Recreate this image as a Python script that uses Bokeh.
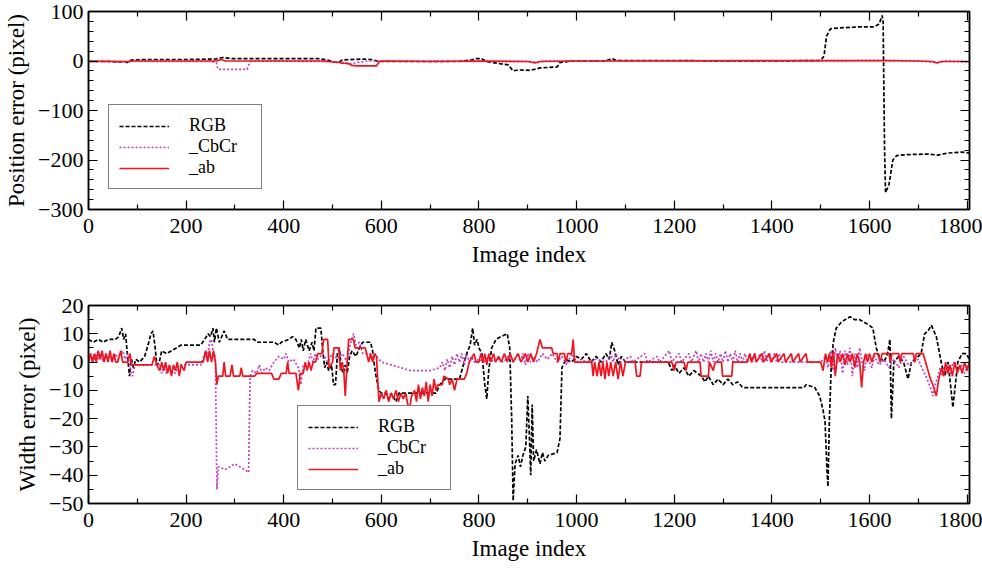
from bokeh.plotting import figure
from bokeh.models import Legend, LegendItem, LinearAxis, FixedTicker, Range1d, CustomJSTickFormatter
from bokeh.layouts import column
from bokeh.embed import file_html
from bokeh.resources import INLINE

# ---------------- data ----------------
series_names = ["RGB", "_CbCr", "_ab"]
x_ticks = [0, 200, 400, 600, 800, 1000, 1200, 1400, 1600, 1800]
x_minor = [100, 300, 500, 700, 900, 1100, 1300, 1500, 1700]
top_yticks = [-300, -200, -100, 0, 100]
bot_yticks = [-50, -40, -30, -20, -10, 0, 10, 20]

top_rgb = [(0, -1), (40, -1), (70, -2), (80, -3), (88, 2), (120, 3), (200, 3), (260, 4), (275, 7), (290, 5),
           (400, 5), (470, 5), (490, 2), (505, -2), (512, -3), (520, 2), (560, 4), (580, 3), (595, -1), (650, -1),
           (760, -1), (785, 2), (795, 5), (805, 5), (815, -1), (840, -5), (860, -8), (870, -20), (880, -18),
           (905, -19), (925, -14), (960, -12), (966, -3), (990, 0), (1060, 0), (1072, 5), (1080, 2), (1090, 1),
           (1200, 1), (1300, 0), (1400, 0), (1500, 1), (1507, 10), (1512, 50), (1520, 65), (1540, 67), (1580, 69),
           (1610, 69), (1620, 75), (1626, 92), (1628, 80), (1631, -180), (1633, -266), (1640, -250), (1648, -200),
           (1656, -191), (1680, -189), (1720, -188), (1740, -190), (1760, -186), (1790, -184), (1805, -186)]

top_cbcr = [(0, -1), (80, -2), (90, 0), (160, -1), (250, -1), (262, -3), (265, -16), (270, -17), (325, -17),
            (330, -3), (335, 0), (500, -1), (520, -3), (530, -6), (545, -4), (570, 0), (600, 0), (900, -1),
            (920, -2), (940, 0), (1000, 0), (1500, 0), (1630, 1), (1700, 0), (1740, -3), (1760, 0), (1805, -2)]

top_ab = [(0, 0), (80, -1), (90, 0), (250, 0), (262, 0), (272, 3), (280, 0), (480, 0), (500, -2), (515, -3),
          (520, -5), (530, -4), (540, -9), (548, -10), (590, -10), (596, -1), (600, 0), (700, -1), (800, 0),
          (900, -1), (915, -4), (925, -1), (1000, 0), (1630, 1), (1700, 0), (1730, -1), (1738, -4), (1748, -1),
          (1805, -1)]

bot_rgb = [(0, 8), (10, 7), (20, 8), (30, 7), (40, 8), (55, 8), (62, 9), (68, 12), (72, 8), (76, 10), (80, 2),
           (84, -5), (88, 1), (92, -2), (97, 1), (105, 0), (115, 2), (122, 6), (128, 10), (132, 11), (136, 6),
           (140, -1), (145, 0), (150, 4), (160, 3), (170, 4), (180, 5), (190, 6), (200, 6), (230, 6), (238, 8),
           (245, 10), (250, 9), (255, 12), (258, 7), (262, 12), (268, 7), (278, 11), (285, 8), (300, 8), (340, 8),
           (345, 7), (380, 7), (390, 6), (395, 7), (410, 8), (418, 9), (425, 8), (432, 5), (436, 8), (440, 4),
           (445, 8), (452, 4), (458, 7), (462, 4), (466, 12), (476, 12), (480, 4), (484, -2), (488, 0), (492, -3),
           (498, -1), (502, -8), (506, -8), (510, 3), (514, 5), (518, -2), (522, -4), (526, -1), (530, -4),
           (535, 2), (540, 4), (548, 2), (555, 5), (562, 7), (578, 7), (582, 4), (588, -4), (595, -10), (600, -11),
           (610, -11), (615, -13), (620, -11), (630, -14), (636, -11), (645, -11), (700, -11), (712, -11),
           (720, -8), (730, -6), (760, -6), (768, -1), (775, 3), (782, 6), (787, 12), (791, 6), (796, 8), (800, 5),
           (806, 3), (812, -8), (816, -13), (820, -3), (826, 5), (835, 8), (845, 9), (858, 10), (863, 5),
           (867, -20), (870, -49), (874, -36), (880, -33), (885, -37), (890, -33), (896, -30), (900, -12),
           (903, -25), (906, -40), (909, -15), (912, -35), (918, -31), (925, -36), (930, -32), (935, -35),
           (942, -33), (960, -32), (966, -27), (970, -2), (978, 1), (990, 0), (1000, 2), (1010, 1), (1020, 3),
           (1030, 0), (1040, 2), (1050, 0), (1060, 3), (1067, 1), (1072, 7), (1078, 4), (1085, -1), (1092, 2),
           (1100, 0), (1150, 0), (1188, 0), (1195, -3), (1200, -1), (1210, -4), (1220, -2), (1230, -5),
           (1240, -3), (1256, -5), (1263, -7), (1270, -5), (1280, -8), (1290, -6), (1300, -8), (1310, -6),
           (1320, -8), (1330, -7), (1340, -9), (1350, -9), (1400, -9), (1466, -9), (1470, -8), (1488, -9),
           (1498, -12), (1505, -17), (1509, -21), (1513, -38), (1515, -44), (1518, -20), (1522, 0), (1526, 7),
           (1532, 12), (1542, 14), (1550, 15), (1560, 16), (1570, 15), (1580, 15), (1590, 14), (1600, 13),
           (1607, 12), (1614, 5), (1620, 2), (1630, 0), (1637, 3), (1642, 8), (1645, -20), (1650, 0), (1660, 2),
           (1670, 0), (1679, -6), (1686, 0), (1700, 2), (1706, 3), (1713, 10), (1720, 11), (1727, 13), (1737, 9),
           (1747, 0), (1754, -5), (1761, 0), (1771, -16), (1781, 0), (1790, 3), (1798, 3), (1805, 1)]

bot_cbcr = [(0, 0), (5, 3), (10, 0), (15, 3), (20, 1), (25, 3), (30, 0), (35, 3), (40, 1), (45, 3), (50, 0),
            (55, 3), (60, 1), (65, 3), (70, 4), (75, 1), (80, 3), (85, -2), (90, -5), (95, -1), (105, -1),
            (120, -1), (135, -1), (145, -1), (150, -4), (155, -2), (160, -4), (165, -1), (170, -3), (178, -4),
            (185, -1), (200, -1), (230, -1), (240, 4), (244, 2), (248, 7), (252, 8), (256, 3), (260, 2),
            (263, -45), (266, -37), (280, -38), (290, -37), (300, -36), (310, -37), (320, -38), (328, -39),
            (331, -5), (336, -3), (345, -4), (350, -1), (355, -4), (362, -2), (370, -3), (380, 0), (390, 2),
            (400, 1), (405, 3), (410, 0), (420, 1), (430, -2), (435, -8), (440, -1), (450, 0), (455, 3), (460, 0),
            (465, 3), (470, 1), (480, 3), (490, 0), (500, 3), (510, 1), (520, 3), (530, 0), (536, 6), (543, 10),
            (548, 6), (555, 7), (562, 3), (575, 3), (590, 2), (600, 0), (620, -1), (640, -2), (660, -3),
            (700, -3), (720, -2), (725, 0), (730, -3), (735, 1), (740, -2), (745, 2), (750, -1), (755, 3),
            (760, 0), (765, 3), (770, -1), (775, 3), (780, 0), (785, 2), (790, 0), (800, 1), (810, 0), (820, 2),
            (830, 0), (840, 1), (850, 0), (860, 2), (870, 0), (880, 3), (885, 0), (890, 3), (895, -1), (900, 3),
            (905, 0), (910, 2), (920, 0), (930, 3), (940, 1), (950, 3), (960, 0), (970, 2), (980, -1), (990, 3),
            (1000, 0), (1010, 1), (1020, 0), (1040, 1), (1060, 0), (1070, 3), (1075, 0), (1080, 3), (1090, 0),
            (1110, 2), (1115, 0), (1140, 3), (1145, 0), (1165, 2), (1170, 0), (1185, 3), (1190, 4), (1195, 0),
            (1210, 3), (1215, 0), (1230, 3), (1235, 0), (1245, 4), (1250, 0), (1255, 3), (1260, 0), (1265, 3),
            (1270, 0), (1275, 4), (1280, 0), (1285, 3), (1290, 0), (1295, 3), (1300, 0), (1305, 4), (1310, 0),
            (1315, 3), (1320, 0), (1325, 4), (1330, 0), (1335, 3), (1340, 0), (1345, 3), (1350, 0), (1355, 3),
            (1360, 0), (1365, 3), (1370, 0), (1375, 3), (1380, 0), (1385, 4), (1390, 0), (1395, 3), (1400, 0),
            (1405, 3), (1410, 0), (1415, 3), (1420, 0), (1440, 0), (1500, 0), (1510, 2), (1515, -2), (1520, 4),
            (1525, -3), (1530, 5), (1535, 0), (1540, 4), (1545, -4), (1550, 4), (1555, -1), (1560, 5), (1565, -5),
            (1570, 3), (1575, -2), (1580, 5), (1585, 0), (1590, -3), (1595, 3), (1600, 0), (1605, -2), (1610, 2),
            (1620, -1), (1630, 1), (1640, -2), (1650, 1), (1660, -2), (1670, 2), (1680, -1), (1690, 0), (1700, 1),
            (1710, -3), (1718, -6), (1725, -9), (1730, -12), (1735, -8), (1740, -5), (1745, -2), (1750, -5),
            (1758, -1), (1765, -4), (1772, 0), (1780, -3), (1788, -1), (1795, -4), (1805, 0)]

bot_ab = [(0, 0), (4, 3), (8, 0), (12, 3), (16, 0), (20, 4), (24, 1), (28, 4), (32, 0), (36, 3), (40, 0), (44, 4),
          (48, 0), (52, 3), (56, 0), (60, 0), (66, 4), (70, 0), (80, 0), (85, 3), (88, -1), (100, -1), (130, -1),
          (135, 2), (140, -1), (146, -3), (150, 0), (154, -3), (158, 0), (162, -4), (166, -1), (170, -5),
          (174, -1), (178, -3), (182, 0), (186, -5), (190, -1), (196, -3), (200, 0), (225, 0), (235, 0), (240, 4),
          (244, 0), (248, 4), (252, 0), (256, 4), (260, 0), (263, -8), (266, -5), (275, -5), (278, 0), (281, -5),
          (290, -5), (294, -1), (297, -5), (310, -5), (313, -2), (316, -5), (340, -5), (345, -4), (375, -4),
          (380, -6), (390, -6), (395, -4), (405, -4), (408, 0), (411, -4), (425, -4), (430, -10), (434, -4),
          (440, -4), (444, 0), (448, -3), (452, 0), (456, -3), (460, 0), (465, 0), (470, 3), (478, 3), (482, 8),
          (490, 8), (493, -2), (500, 0), (503, 5), (513, 5), (516, -3), (520, 0), (523, -3), (526, -12), (530, 0),
          (533, 8), (543, 8), (546, 5), (567, 5), (570, 3), (574, 0), (578, 3), (582, 0), (586, 3), (590, 2),
          (595, -14), (600, -11), (605, -13), (610, -10), (615, -14), (620, -11), (625, -13), (630, -10),
          (635, -14), (640, -11), (645, -13), (650, -11), (654, -15), (658, -16), (662, -12), (668, -10),
          (672, -14), (676, -8), (680, -13), (684, -9), (688, -12), (692, -7), (696, -14), (700, -8), (704, -12),
          (708, -6), (712, -10), (716, -8), (725, -8), (728, -5), (737, -6), (740, -8), (745, -6), (750, -10),
          (755, -6), (770, -6), (775, -4), (780, 0), (790, 3), (794, 0), (800, 0), (804, 3), (808, 0), (812, 3),
          (816, -1), (820, 3), (824, 0), (830, 3), (834, 0), (840, 2), (846, 0), (852, 3), (858, 0), (864, 3),
          (870, 0), (880, 3), (886, 0), (895, 3), (900, 0), (906, 3), (912, 0), (918, 3), (925, 8), (930, 5),
          (949, 5), (952, 3), (960, 3), (962, 0), (966, 3), (975, 3), (978, 0), (982, 3), (990, 3), (993, 8),
          (996, 0), (1031, 0), (1034, -5), (1037, 0), (1042, -5), (1046, 0), (1050, -5), (1054, 0), (1058, -6),
          (1062, 0), (1066, -5), (1070, 0), (1075, -5), (1080, 0), (1085, -6), (1090, 0), (1095, -5), (1100, 0),
          (1120, 0), (1123, -5), (1130, -5), (1133, 0), (1195, 0), (1200, -3), (1204, 0), (1220, 0), (1224, -3),
          (1228, 0), (1253, 0), (1255, -5), (1270, -5), (1272, 0), (1280, -3), (1284, 0), (1297, 0), (1299, -5),
          (1318, -5), (1320, 0), (1350, 0), (1355, 3), (1358, 0), (1365, 3), (1368, 0), (1380, 3), (1383, 0),
          (1395, 3), (1398, 0), (1410, 3), (1413, 0), (1425, 3), (1428, 0), (1440, 3), (1443, 0), (1455, 3),
          (1458, 0), (1470, 3), (1473, 0), (1500, 0), (1505, -3), (1510, 3), (1514, 0), (1518, 3), (1522, -2),
          (1526, 4), (1530, -5), (1535, 3), (1540, 0), (1545, 3), (1550, -1), (1555, 3), (1560, 0), (1565, 3),
          (1570, -2), (1575, 3), (1580, 0), (1584, -9), (1588, 0), (1592, 3), (1596, 0), (1600, 3), (1605, 0),
          (1610, 3), (1617, 3), (1622, 0), (1626, 3), (1640, 3), (1643, 0), (1646, 3), (1660, 3), (1663, 0),
          (1666, 3), (1690, 3), (1693, 0), (1696, 3), (1710, 3), (1715, 0), (1720, -3), (1725, -6), (1730, -8),
          (1737, -12), (1742, -6), (1748, -2), (1752, -5), (1756, 0), (1760, -4), (1765, -1), (1770, -5),
          (1775, 0), (1780, -4), (1785, -1), (1790, -4), (1795, 0), (1800, -3), (1805, 0)]

# ---------------- styling ----------------
FONT = "Liberation Serif"
COLORS = ["#000000", "#c040c0", "#f0141e"]
DASHES = ["4 2", "2 2", "solid"]
WIDTHS = [1.7, 1.7, 1.7]

minus_fmt = "return (tick < 0 ? '\u2212' + Math.abs(tick) : '' + tick);"


def style_axis(ax, ticks, minor, show_labels=True):
    ax.ticker = FixedTicker(ticks=ticks, minor_ticks=minor)
    ax.major_tick_in = 9
    ax.major_tick_out = 0
    ax.minor_tick_in = 5
    ax.minor_tick_out = 0
    ax.major_tick_line_color = "black"
    ax.minor_tick_line_color = "black"
    ax.major_tick_line_width = 1.2
    ax.minor_tick_line_width = 1.2
    ax.axis_line_color = "black"
    ax.axis_line_width = 1.5
    if show_labels:
        ax.major_label_text_font = FONT
        ax.major_label_text_font_size = "22px"
        ax.major_label_text_color = "black"
        ax.axis_label_text_font = FONT
        ax.axis_label_text_font_size = "23px"
        ax.axis_label_text_font_style = "normal"
        ax.axis_label_text_color = "black"
        ax.formatter = CustomJSTickFormatter(code=minus_fmt)
    else:
        ax.major_label_text_color = None
        ax.major_label_text_font_size = "1px"
        ax.major_label_standoff = 0


def make_plot(series, ymin, ymax, yticks, yminor, ylabel, height, btop, bbottom, legend_loc):
    p = figure(width=982, height=height, x_range=Range1d(0, 1805), y_range=Range1d(ymin, ymax),
               output_backend="svg", toolbar_location=None,
               min_border_left=88, min_border_right=13, min_border_top=btop, min_border_bottom=bbottom)
    p.xgrid.visible = False
    p.ygrid.visible = False
    p.outline_line_color = "black"
    p.outline_line_width = 1.5
    p.background_fill_color = "white"
    p.border_fill_color = "white"

    style_axis(p.xaxis[0], x_ticks, x_minor)
    p.xaxis[0].axis_label = "Image index"
    p.xaxis[0].major_label_standoff = 9
    p.xaxis[0].axis_label_standoff = 6
    style_axis(p.yaxis[0], yticks, yminor)
    p.yaxis[0].axis_label = ylabel
    p.yaxis[0].major_label_standoff = 5
    p.yaxis[0].axis_label_standoff = 6

    top_ax = LinearAxis()
    style_axis(top_ax, x_ticks, x_minor, show_labels=False)
    p.add_layout(top_ax, "above")
    right_ax = LinearAxis()
    style_axis(right_ax, yticks, yminor, show_labels=False)
    p.add_layout(right_ax, "right")

    items = []
    for name, pts, col, dash, w in zip(series_names, series, COLORS, DASHES, WIDTHS):
        xs = [a for a, b in pts]
        ys = [b for a, b in pts]
        r = p.line(xs, ys, line_color=col, line_dash=dash, line_width=w)
        items.append(LegendItem(label=name, renderers=[r]))

    leg = Legend(items=items, location=legend_loc)
    leg.border_line_color = "black"
    leg.border_line_width = 1.2
    leg.background_fill_color = "white"
    leg.background_fill_alpha = 1.0
    leg.label_text_font = FONT
    leg.label_text_font_size = "18px"
    leg.label_text_color = "black"
    leg.glyph_width = 50
    leg.glyph_height = 20
    leg.label_height = 20
    leg.label_width = 62
    leg.label_standoff = 20
    leg.padding = 10
    leg.spacing = 0
    leg.margin = 0
    p.add_layout(leg, "center")
    return p


p1 = make_plot([top_rgb, top_cbcr, top_ab], -300, 100, top_yticks, list(range(-300, 101, 20)),
               "Position error (pixel)", 286, 11, 77, (20, 20))
p2 = make_plot([bot_rgb, bot_cbcr, bot_ab], -50, 20, bot_yticks, list(range(-50, 21, 5)),
               "Width error (pixel)", 286, 19, 69, (209, 13))

layout = column(p1, p2, spacing=0)
open("out.html", "w").write(file_html(layout, INLINE))
